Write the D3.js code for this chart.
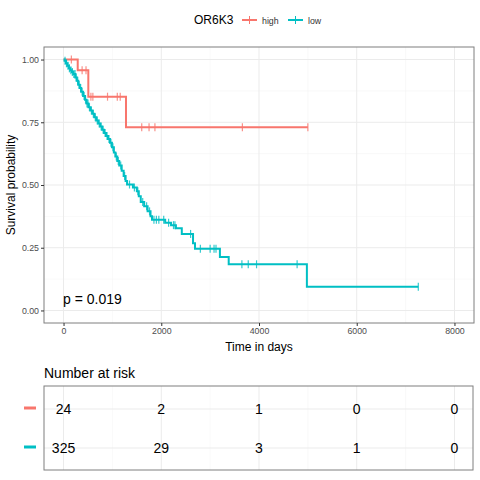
<!DOCTYPE html>
<html><head><meta charset="utf-8">
<script src="https://cdn.jsdelivr.net/npm/d3@7"></script>
<style>body{margin:0;background:#fff}text{font-family:"Liberation Sans",Arial,sans-serif}</style>
</head><body><div id="graph"></div>
<script>
// Courbes de survie (temps, survie)
var groupes = ["high", "low"];
var couleurs = ["#F8766D", "#00BFC4"];
var highEvents = [[0, 1], [290, 0.957], [507, 0.852], [1278, 0.730]];
var highFin = 5000;
var highCens = [160, 380, 460, 560, 600, 900, 1100, 1160, 1600, 1750, 1870, 3660, 5000];
var lowEvents = [[0, 1], [20, 0.995], [50, 0.985], [80, 0.975], [110, 0.965], [140, 0.957], [170, 0.950], [200, 0.942],
  [240, 0.928], [270, 0.915], [300, 0.900], [330, 0.887], [360, 0.872], [400, 0.855], [440, 0.840], [470, 0.825],
  [510, 0.810], [550, 0.797], [590, 0.784], [630, 0.770], [670, 0.757], [710, 0.745], [750, 0.733], [790, 0.720],
  [830, 0.707], [870, 0.695], [910, 0.683], [950, 0.668], [990, 0.650], [1030, 0.630], [1060, 0.614], [1100, 0.596],
  [1140, 0.578], [1190, 0.557], [1230, 0.536], [1270, 0.516], [1300, 0.502], [1420, 0.490], [1500, 0.475],
  [1540, 0.455], [1580, 0.432], [1650, 0.415], [1720, 0.395], [1780, 0.375], [1810, 0.362], [2080, 0.350],
  [2200, 0.340], [2300, 0.328], [2420, 0.305], [2650, 0.268], [2690, 0.246], [3200, 0.213], [3380, 0.184],
  [4980, 0.094]];
var lowFin = 7260;
var lowCens = [30, 60, 90, 120, 150, 180, 210, 235, 260, 290, 320, 350, 380, 420, 450, 480, 500, 530, 570, 610, 650, 690, 730, 770, 810, 850, 890, 930,
  970, 1010, 1080, 1120, 1170, 1250, 1350, 1450, 1520, 1620, 1700, 1760, 1850, 1900, 1950, 2050, 2150, 2250,
  2280, 2600, 2800, 3000, 3080, 3120, 3650, 3780, 3950, 4780, 7260];
var pTexte = "p = 0.019";
var ticksX = [0, 2000, 4000, 6000, 8000];
var ticksY = [0, 0.25, 0.5, 0.75, 1];
var risqueHigh = [24, 2, 1, 0, 0];
var risqueLow = [325, 29, 3, 1, 0];

var W = 480, H = 480;
var svg = d3.select("#graph").append("svg").attr("width", W).attr("height", H);

var x = d3.scaleLinear().domain([-400, 8400]).range([44, 474]);
var y = d3.scaleLinear().domain([-0.05, 1.05]).range([323, 47]);

// panneau
var panneau = svg.append("g");
panneau.append("rect").attr("x", 44).attr("y", 47).attr("width", 430).attr("height", 276).attr("fill", "#fff");
var mineurX = [1000, 3000, 5000, 7000], mineurY = [0.125, 0.375, 0.625, 0.875];
mineurX.forEach(function(t) { panneau.append("line").attr("x1", x(t)).attr("x2", x(t)).attr("y1", 47).attr("y2", 323).attr("stroke", "#f2f2f2").attr("stroke-width", 0.5); });
mineurY.forEach(function(t) { panneau.append("line").attr("y1", y(t)).attr("y2", y(t)).attr("x1", 44).attr("x2", 474).attr("stroke", "#f2f2f2").attr("stroke-width", 0.5); });
ticksX.forEach(function(t) { panneau.append("line").attr("x1", x(t)).attr("x2", x(t)).attr("y1", 47).attr("y2", 323).attr("stroke", "#ebebeb"); });
ticksY.forEach(function(t) { panneau.append("line").attr("y1", y(t)).attr("y2", y(t)).attr("x1", 44).attr("x2", 474).attr("stroke", "#ebebeb"); });

function courbe(events, fin, cens, col) {
  var pts = [];
  events.forEach(function(e, i) {
    if (i > 0) pts.push([e[0], events[i - 1][1]]);
    pts.push(e);
  });
  pts.push([fin, events[events.length - 1][1]]);
  svg.append("path").datum(pts)
    .attr("d", d3.line().x(function(d) { return x(d[0]); }).y(function(d) { return y(d[1]); }))
    .attr("fill", "none").attr("stroke", col).attr("stroke-width", 2);
  function survie(t) {
    var s = 1;
    events.forEach(function(e) { if (e[0] <= t) s = e[1]; });
    return s;
  }
  svg.selectAll(null).data(cens).enter().append("line")
    .attr("x1", function(d) { return x(d); }).attr("x2", function(d) { return x(d); })
    .attr("y1", function(d) { return y(survie(d)) - 4; }).attr("y2", function(d) { return y(survie(d)) + 4; })
    .attr("stroke", col).attr("stroke-width", 1.2).attr("opacity", 0.8);
}
courbe(highEvents, highFin, highCens, couleurs[0]);
courbe(lowEvents, lowFin, lowCens, couleurs[1]);

panneau.append("rect").attr("x", 44).attr("y", 47).attr("width", 430).attr("height", 276)
  .attr("fill", "none").attr("stroke", "#7f7f7f");
svg.raise();

var axes = svg.append("g");
axes.append("g").attr("transform", "translate(0,323)")
  .call(d3.axisBottom(x).tickValues(ticksX).tickFormat(d3.format("d")).tickSize(3).tickPadding(2))
  .call(function(g) { g.select(".domain").remove(); g.selectAll("line").attr("stroke", "#333"); g.selectAll("text").attr("font-size", 8.8).attr("fill", "#4d4d4d"); });
axes.append("g").attr("transform", "translate(44,0)")
  .call(d3.axisLeft(y).tickValues(ticksY).tickFormat(d3.format(".2f")).tickSize(3).tickPadding(2))
  .call(function(g) { g.select(".domain").remove(); g.selectAll("line").attr("stroke", "#333"); g.selectAll("text").attr("font-size", 8.8).attr("fill", "#4d4d4d"); });

svg.append("text").attr("x", 259).attr("y", 351).attr("text-anchor", "middle").attr("font-size", 12).text("Time in days");
svg.append("text").attr("transform", "translate(15,185) rotate(-90)").attr("text-anchor", "middle").attr("font-size", 12).text("Survival probability");
svg.append("text").attr("x", 63).attr("y", 304).attr("font-size", 14).text(pTexte);

// légende
var leg = svg.append("g");
leg.append("text").attr("x", 194).attr("y", 24).attr("font-size", 12).text("OR6K3");
var legX = [242, 288];
groupes.forEach(function(g, i) {
  leg.append("line").attr("x1", legX[i]).attr("x2", legX[i] + 15).attr("y1", 20).attr("y2", 20).attr("stroke", couleurs[i]).attr("stroke-width", 2);
  leg.append("line").attr("x1", legX[i] + 7.5).attr("x2", legX[i] + 7.5).attr("y1", 16).attr("y2", 24).attr("stroke", couleurs[i]).attr("stroke-width", 1);
  leg.append("text").attr("x", legX[i] + 20).attr("y", 24).attr("font-size", 8.8).attr("fill", "#333").text(g);
});

// tableau des effectifs
svg.append("text").attr("x", 44).attr("y", 378).attr("font-size", 14).text("Number at risk");
var tab = svg.append("g");
var rangY = [409, 448];
ticksX.forEach(function(t) { tab.append("line").attr("x1", x(t)).attr("x2", x(t)).attr("y1", 386).attr("y2", 470).attr("stroke", "#ebebeb"); });
mineurX.forEach(function(t) { tab.append("line").attr("x1", x(t)).attr("x2", x(t)).attr("y1", 386).attr("y2", 470).attr("stroke", "#f2f2f2").attr("stroke-width", 0.5); });
rangY.forEach(function(r) { tab.append("line").attr("x1", 44).attr("x2", 473).attr("y1", r).attr("y2", r).attr("stroke", "#ebebeb"); });
tab.append("rect").attr("x", 44).attr("y", 386).attr("width", 429).attr("height", 84).attr("fill", "none").attr("stroke", "#7f7f7f");
[risqueHigh, risqueLow].forEach(function(rang, i) {
  tab.selectAll(null).data(rang).enter().append("text")
    .attr("x", function(d, j) { return x(ticksX[j]); }).attr("y", rangY[i] + 5)
    .attr("text-anchor", "middle").attr("font-size", 14).text(function(d) { return d; });
  tab.append("line").attr("x1", 24).attr("x2", 36).attr("y1", rangY[i] - 1).attr("y2", rangY[i] - 1).attr("stroke", couleurs[i]).attr("stroke-width", 3);
});
</script></body></html>
